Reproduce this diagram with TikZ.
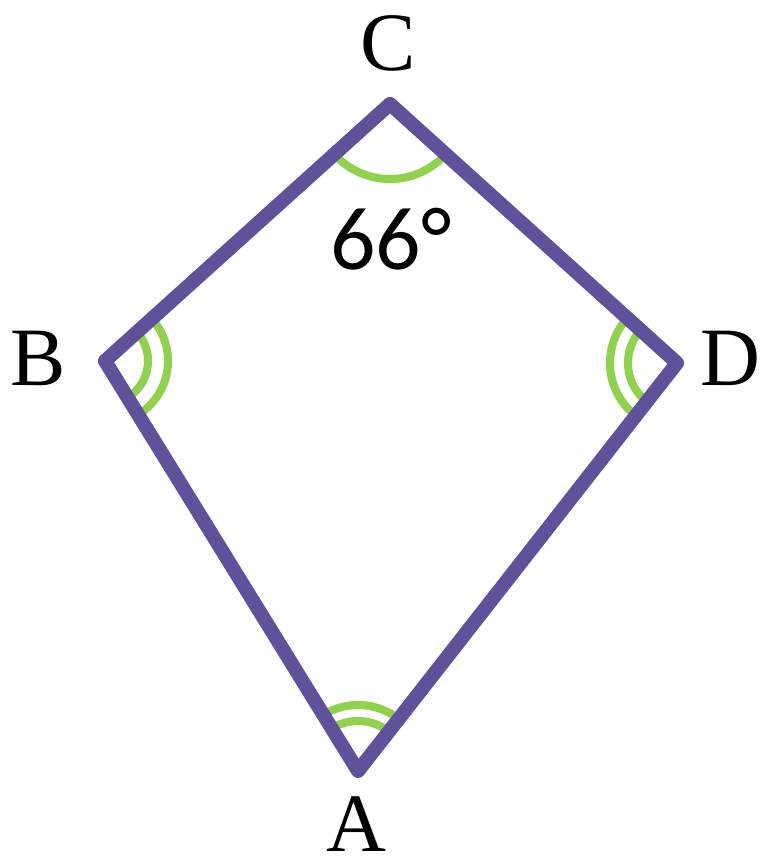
\documentclass[tikz,border=0pt]{standalone}
\usepackage{fontspec}
\setmainfont{Liberation Serif}
\newfontfamily\anglefont{Carlito}
\usetikzlibrary{angles}
\definecolor{kitepurple}{RGB}{95,82,155}
\definecolor{arcgreen}{RGB}{146,208,80}

\begin{document}
\begin{tikzpicture}[
  x=0.01cm, y=0.01cm,
  kite/.style={draw=kitepurple, line width=4pt, line join=round},
  anglemark/.style={draw=arcgreen, line width=2.3pt},
  vlabel/.style={font=\fontsize{23.6}{26}\selectfont, inner sep=0pt},
  deglabel/.style={font=\anglefont\fontsize{25.5}{28}\selectfont, inner sep=0pt}
]
\useasboundingbox (0,0) rectangle (764,862);

% corners of the kite
\coordinate (A) at (358,91);
\coordinate (B) at (105,501);
\coordinate (C) at (390,758);
\coordinate (D) at (677,499);

% angle marks
\pic[anglemark, angle radius=0.75cm] {angle=B--C--D};
\pic[anglemark, angle radius=0.43cm] {angle=A--B--C};
\pic[anglemark, angle radius=0.63cm] {angle=A--B--C};
\pic[anglemark, angle radius=0.49cm] {angle=C--D--A};
\pic[anglemark, angle radius=0.67cm] {angle=C--D--A};
\pic[anglemark, angle radius=0.50cm] {angle=D--A--B};
\pic[anglemark, angle radius=0.66cm] {angle=D--A--B};

\draw[kite] (A) -- (B) -- (C) -- (D) -- cycle;

% labels
\node[vlabel] (labC) at (388,819) {C};
\node[vlabel] (labB) at (38,504) {B};
\node[vlabel] (labD) at (730,504) {D};
\node[vlabel] (labA) at (356,38) {A};
\node[deglabel] (deg) at (391,623) {66°};
\end{tikzpicture}
\end{document}
